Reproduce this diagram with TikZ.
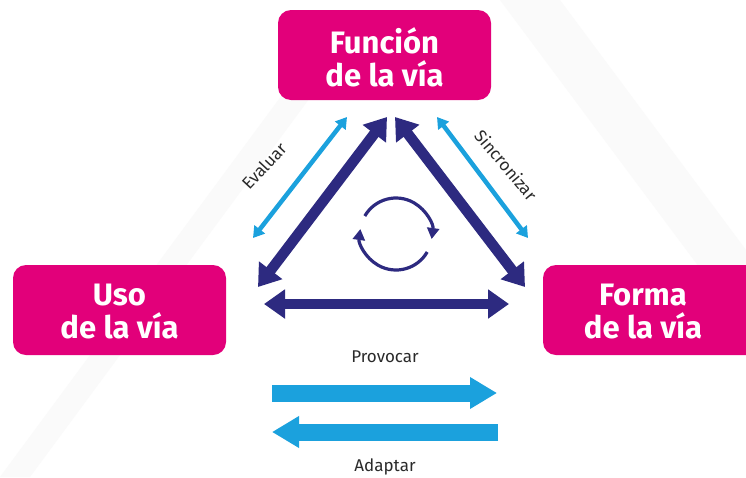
\documentclass[tikz,border=0pt]{standalone}
\usepackage{fontspec}
\setmainfont{Fira Sans}
\usetikzlibrary{arrows.meta}
\definecolor{mag}{HTML}{E2007A}
\definecolor{navy}{HTML}{2D2A80}
\definecolor{sky}{HTML}{1BA1DD}
\definecolor{lbl}{HTML}{2A2A2A}
\tikzset{
  box/.style={fill=mag, rounded corners=13pt, minimum width=213pt, minimum height=90pt, inner sep=0pt},
  boxtext/.style={text=white, font=\fontsize{31}{33}\selectfont\bfseries, align=center},
  darkarrow/.style={navy, line width=10.5pt, {Triangle[width=28pt,length=21pt]}-{Triangle[width=28pt,length=21pt]}},
  thinarrow/.style={sky, line width=4.5pt, {Triangle[width=13pt,length=11pt]}-{Triangle[width=13pt,length=11pt]}},
  fatarrow/.style={sky, line width=17pt, -{Triangle[width=30pt,length=27pt]}},
  cyc/.style={navy, line width=3.2pt, -{Triangle[width=12pt,length=11pt]}},
  lab/.style={text=lbl, font=\fontsize{17}{19}\selectfont},
}
\begin{document}
\begin{tikzpicture}[x=1pt,y=-1pt]
\useasboundingbox (0,0) rectangle (746,477);
\fill[white] (0,0) rectangle (746,477);
% faint background shapes
\fill[black!2] (0,477) -- (330,30) -- (360,30) -- (30,477) -- cycle;
\fill[black!2] (500,0) -- (560,0) -- (746,250) -- (746,330) -- cycle;
% boxes
\node[box] (fun) at (384.5,55) {};
\node[boxtext] (funt) at (384.5,57) {Función\\de la vía};
\node[box] (uso) at (119.5,310) {};
\node[boxtext] (usot) at (119.5,312) {Uso\\de la vía};
\node[box, minimum width=220pt] (for) at (653,310) {};
\node[boxtext] (fort) at (643,312) {Forma\\de la vía};
% coordinates
\coordinate (dlA) at (258,287);
\coordinate (dlB) at (387,117);
\coordinate (drA) at (395,117);
\coordinate (drB) at (525,287);
\coordinate (dbA) at (264,304);
\coordinate (dbB) at (509,304);
\coordinate (tlA) at (253,238);
\coordinate (tlB) at (347,117);
\coordinate (trA) at (437,117);
\coordinate (trB) at (528,238);
% dark arrows
\draw[darkarrow] (dlA) -- (dlB);
\draw[darkarrow] (drA) -- (drB);
\draw[darkarrow] (dbA) -- (dbB);
% thin arrows
\draw[thinarrow] (tlA) -- (tlB);
\draw[thinarrow] (trA) -- (trB);
\node[lab, rotate=47] (ev) at (264,166) {Evaluar};
\node[lab, rotate=-50] (si) at (506,165) {Sincronizar};
% cycle
\coordinate (cc) at (396,234);
\draw[cyc] ([shift={(150:36pt)}]cc) arc[start angle=150, end angle=-8, radius=36pt];
\draw[cyc] ([shift={(-30:36pt)}]cc) arc[start angle=-30, end angle=-188, radius=36pt];
% fat arrows
\coordinate (p1) at (272,393);
\coordinate (p2) at (497,393);
\coordinate (a1) at (498,432);
\coordinate (a2) at (272,432);
\draw[fatarrow] (p1) -- (p2);
\draw[fatarrow] (a1) -- (a2);
\node[lab] (prov) at (385,357) {Provocar};
\node[lab] (adap) at (385,467) {Adaptar};
\end{tikzpicture}
\end{document}
